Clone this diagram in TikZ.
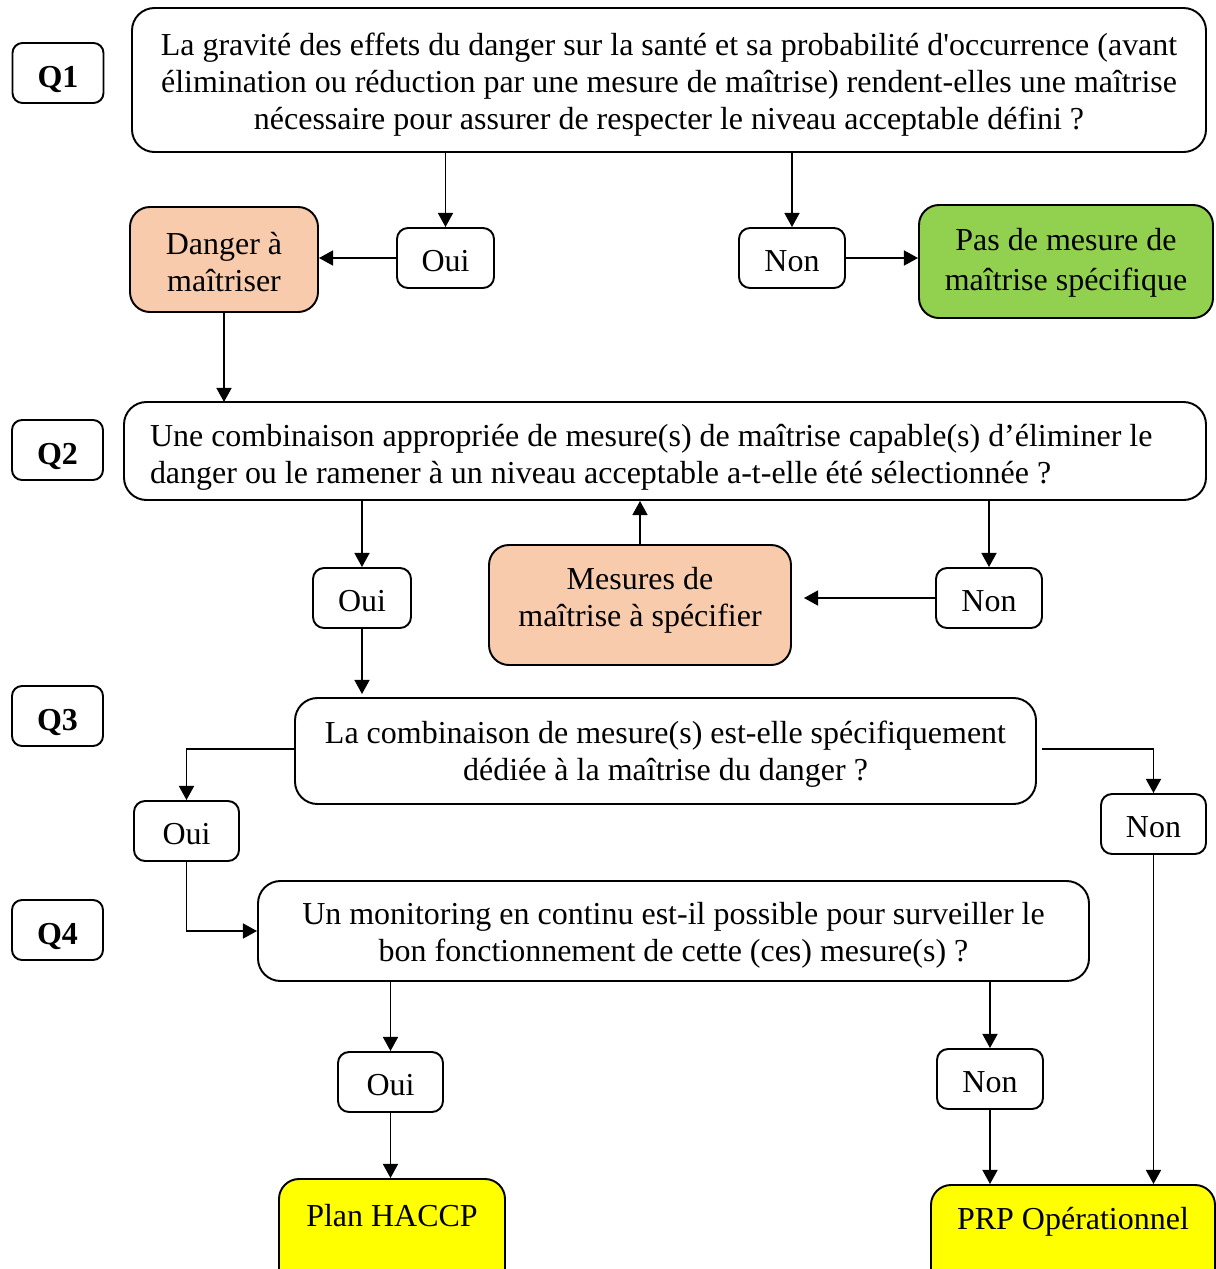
\documentclass[tikz,border=0pt]{standalone}
\usepackage{fontspec}
\setmainfont{Liberation Serif}
\usetikzlibrary{arrows.meta}
\newlength\pxu
\setlength\pxu{0.02cm}
\definecolor{peach}{HTML}{F8CBAD}
\definecolor{leaf}{HTML}{92D050}
\definecolor{lemon}{HTML}{FFFF00}
\tikzset{
  qtag/.style={draw, line width=1.1pt, rounded corners=0.2cm, minimum width=91\pxu, minimum height=60\pxu, inner sep=0pt, text height=17pt, text depth=0pt, font=\fontsize{18.2}{21}\selectfont\bfseries},
  qbox/.style={draw, line width=1.1pt, rounded corners=0.45cm, inner sep=0pt, align=center},
  ans/.style={draw, line width=1.1pt, rounded corners=0.22cm, minimum height=60\pxu, inner sep=0pt, text height=15pt, text depth=0pt},
  outcome/.style={draw, line width=1.1pt, rounded corners=0.4cm, inner sep=0pt, align=center},
  arr/.style={line width=1pt, -{Triangle[length=8pt,width=8.5pt]}},
}
\begin{document}
\begin{tikzpicture}[x=\pxu, y=-\pxu, every node/.style={font=\fontsize{18.2}{21}\selectfont}]
  \useasboundingbox (0,0) rectangle (1215,1269);
  % question tags
  \node[qtag] (q1) at (58,73) {Q1};
  \node[qtag] (q2) at (57.5,450) {Q2};
  \node[qtag] (q3) at (57.5,716) {Q3};
  \node[qtag] (q4) at (57.5,930) {Q4};
  % Q1
  \node[qbox, minimum width=1074\pxu, minimum height=144\pxu, text height=60.3pt] (b1) at (669,80)
    {La gravité des effets du danger sur la santé et sa probabilité d\textquotesingle occurrence (avant\\
     élimination ou réduction par une mesure de maîtrise) rendent-elles une maîtrise\\
     nécessaire pour assurer de respecter le niveau acceptable défini ?};
  \node[ans, minimum width=97\pxu] (oui1) at (445.5,258) {Oui};
  \node[ans, minimum width=106\pxu] (non1) at (792,258) {Non};
  \node[outcome, fill=peach, minimum width=188\pxu, minimum height=105\pxu, text height=36.1pt] (danger) at (224,259.5) {Danger à\\maîtriser};
  \node[outcome, fill=leaf, minimum width=294\pxu, minimum height=113\pxu, text height=37.3pt] (pas) at (1066,261.5) {Pas de mesure de\\[0.06cm]maîtrise spécifique};
  \draw[arr] (b1.south -| oui1.north) -- (oui1.north);
  \draw[arr] (b1.south -| non1.north) -- (non1.north);
  \draw[arr] (oui1.west) -- (oui1.west -| danger.east);
  \draw[arr] (non1.east) -- (non1.east -| pas.west);
  \draw[arr] (danger.south) -- (danger.south |- 0,402);
  % Q2
  \node[qbox, minimum width=1082\pxu, minimum height=98\pxu, text width=1030\pxu, align=flush left, text height=19.5pt] (b2) at (665,451)
    {Une combinaison appropriée de mesure(s) de maîtrise capable(s) d’éliminer le\\
     danger ou le ramener à un niveau acceptable a-t-elle été sélectionnée ?};
  \node[ans, minimum width=98\pxu] (oui2) at (362,598) {Oui};
  \node[outcome, fill=peach, minimum width=302\pxu, minimum height=120\pxu, text height=28.7pt] (mesures) at (640,605) {Mesures de\\maîtrise à spécifier};
  \node[ans, minimum width=106\pxu] (non2) at (989,598) {Non};
  \draw[arr] (b2.south -| oui2.north) -- (oui2.north);
  \draw[arr] (mesures.north) -- (mesures.north |- b2.south);
  \draw[arr] (b2.south -| non2.north) -- (non2.north);
  \draw[arr, shorten >=12\pxu] (non2.west) -- (non2.west -| mesures.east);
  % Q3
  \node[qbox, minimum width=741\pxu, minimum height=106\pxu, text height=37pt] (b3) at (665.5,751)
    {La combinaison de mesure(s) est-elle spécifiquement\\dédiée à la maîtrise du danger ?};
  \node[ans, minimum width=105\pxu] (oui3) at (186.5,831) {Oui};
  \node[ans, minimum width=105\pxu] (non3) at (1153.5,824) {Non};
  \draw[arr, shorten >=3\pxu] (oui2.south) -- (oui2.south |- b3.north);
  \draw[arr] ([yshift=2\pxu]b3.west) -| (oui3.north);
  \draw[arr, shorten <=5\pxu] ([yshift=2\pxu]b3.east) -| (non3.north);
  % Q4
  \node[qbox, minimum width=831\pxu, minimum height=100\pxu, text height=39pt] (b4) at (673.5,931)
    {Un monitoring en continu est-il possible pour surveiller le\\bon fonctionnement de cette (ces) mesure(s) ?};
  \node[ans, minimum width=105\pxu] (oui4) at (390.5,1082) {Oui};
  \node[ans, minimum width=106\pxu] (non4) at (990,1079) {Non};
  \draw[arr] (oui3.south) |- (b4.west);
  \draw[arr] (b4.south -| oui4.north) -- (oui4.north);
  \draw[arr] (b4.south -| non4.north) -- (non4.north);
  % outcomes
  \node[outcome, fill=lemon, minimum width=226\pxu, minimum height=110\pxu] (haccp) at (392,1234) {Plan HACCP\\\mbox{}};
  \node[outcome, fill=lemon, minimum width=284\pxu, minimum height=110\pxu] (prp) at (1073,1240) {PRP Opérationnel\\[0.12cm]\mbox{}};
  \draw[arr] (oui4.south) -- (oui4.south |- haccp.north);
  \draw[arr] (non4.south) -- (non4.south |- prp.north);
  \draw[arr] (non3.south) -- (non3.south |- prp.north);
\end{tikzpicture}
\end{document}
